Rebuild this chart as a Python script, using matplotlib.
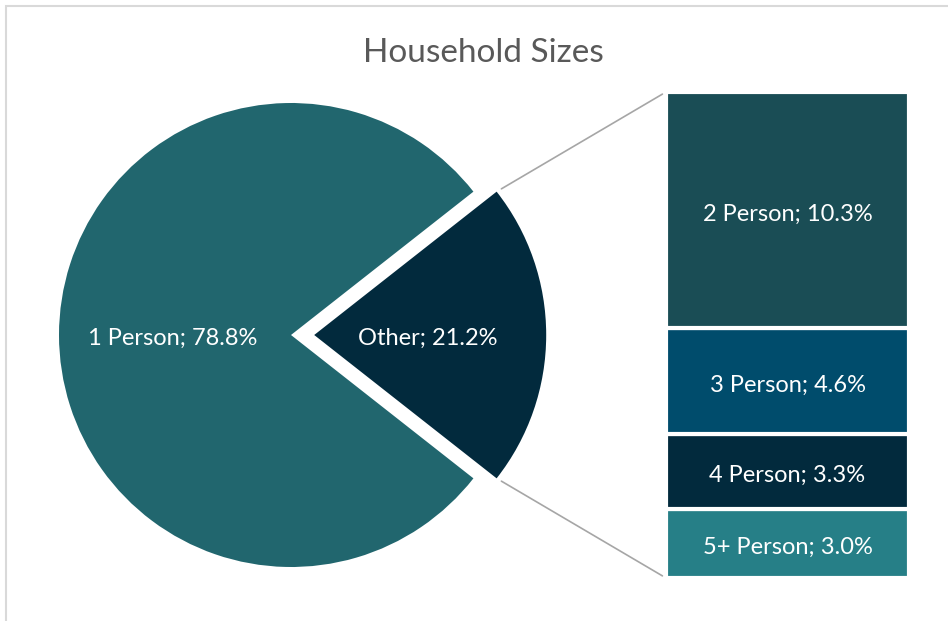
import matplotlib
import matplotlib.pyplot as plt
from matplotlib.patches import ConnectionPatch, Rectangle
import numpy as np

matplotlib.use('Agg')

# pie data (Other first so it sits on the right)
pie_labels = ["Other", "1 Person"]
pie_values = [21.2, 78.8]
pie_colors = ["#022A3D", "#21666E"]

# breakdown of "Other"
bar_labels = ["5+ Person", "4 Person", "3 Person", "2 Person"]
bar_values = [3.0, 3.3, 4.6, 10.3]
bar_colors = ["#267F87", "#022A3D", "#004C6C", "#1A4D55"]

title = "Household Sizes"

W, H = 948, 621
plt.rcParams['font.family'] = ['Lato', 'DejaVu Sans']
label_size = 17

fig = plt.figure(figsize=(W / 100, H / 100), dpi=100)

# light frame around the chart area
fig.patches.append(Rectangle((6 / W, -0.1), 1.0, 1 - 6 / H + 0.1, transform=fig.transFigure,
                             fill=False, edgecolor="#D9D9D9", linewidth=1.5))

# pie axes: center at (291, 335) px, radius 232 px
R = 232
cx, cy = 291, H - 335
px0, px1, py0, py1 = 40, 580, 30, 560
ax1 = fig.add_axes([px0 / W, py0 / H, (px1 - px0) / W, (py1 - py0) / H])
angle = -pie_values[0] * 3.6 / 2
wedges, texts, autotexts = ax1.pie(pie_values, colors=pie_colors, startangle=angle,
                                   explode=[0.1, 0], autopct='%1.1f%%', pctdistance=0.5,
                                   textprops=dict(color="white", fontsize=label_size))
for t, name, v in zip(autotexts, pie_labels, pie_values):
    t.set_text(f"{name}; {v}%")
    x, y = t.get_position()
    t.set_position((x - 2 / R, y - 3 / R))
ax1.set_xlim((px0 - cx) / R, (px1 - cx) / R)
ax1.set_ylim((py0 - cy) / R, (py1 - cy) / R)
ax1.set_aspect('auto')
ax1.axis('off')

# stacked bar axes
bx0, bx1, by0, by1 = 666, 909, H - 578, H - 92
ax2 = fig.add_axes([bx0 / W, by0 / H, (bx1 - bx0) / W, (by1 - by0) / H])
bottom = 0
for name, v, c in zip(bar_labels, bar_values, bar_colors):
    bc = ax2.bar(0, v, width=1.0, bottom=bottom, color=c, edgecolor="white", linewidth=3)
    ax2.bar_label(bc, labels=[f"{name}; {v}%"], label_type='center', color="white",
                  fontsize=label_size, padding=-3)
    bottom += v
ax2.set_xlim(-0.5, 0.5)
ax2.set_ylim(0, sum(bar_values))
ax2.axis('off')

# connector lines from the Other wedge to the bar
w = wedges[0]
ocx, ocy = w.center
r = w.r
top_x = r * np.cos(np.radians(w.theta2)) + ocx
top_y = r * np.sin(np.radians(w.theta2)) + ocy
bot_x = r * np.cos(np.radians(w.theta1)) + ocx
bot_y = r * np.sin(np.radians(w.theta1)) + ocy

for bar_y, (wx, wy) in [(sum(bar_values), (top_x, top_y)), (0, (bot_x, bot_y))]:
    con = ConnectionPatch(xyA=(-0.5, bar_y), coordsA=ax2.transData,
                          xyB=(wx, wy), coordsB=ax1.transData,
                          color="#A6A6A6", linewidth=1.2, shrinkA=3, shrinkB=4)
    fig.add_artist(con)

fig.text(483 / W, 1 - 53 / H, title, ha='center', va='center', fontsize=24, color="#595959")

fig.savefig("out.png", dpi=100)
plt.close(fig)
